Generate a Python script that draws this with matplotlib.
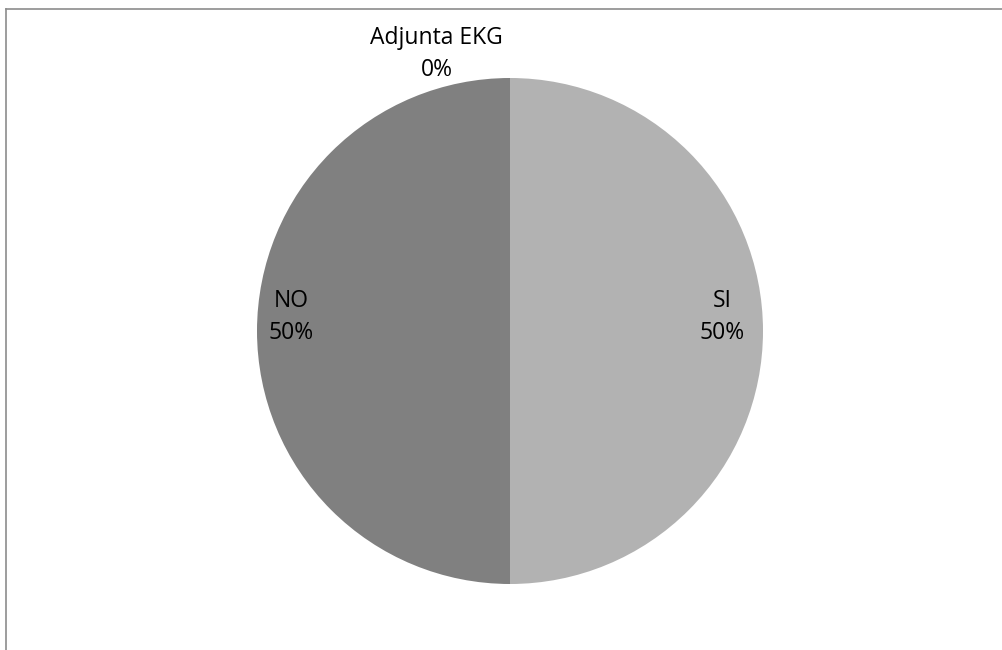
import matplotlib.pyplot as plt
from matplotlib.lines import Line2D

plt.rcParams['font.family'] = ['Open Sans', 'DejaVu Sans']

categories = ["Adjunta EKG", "SI", "NO"]
values = [0, 50, 50]
colors = ["#a0a0a0", "#b2b2b2", "#808080"]
# label centres in radius units, relative to pie centre
label_pos = [(-0.29, 1.095), (0.84, 0.055), (-0.865, 0.055)]

W, H = 1003, 650
fig = plt.figure(figsize=(W / 100, H / 100), dpi=100)

cx, cy, r = 510, 331, 253
ax = fig.add_axes([(cx - r) / W, (H - cy - r) / H, 2 * r / W, 2 * r / H])
ax.pie(values, colors=colors, startangle=90, counterclock=False, radius=1,
       wedgeprops=dict(linewidth=0))
ax.set_xlim(-1, 1)
ax.set_ylim(-1, 1)
ax.set_aspect('equal')
ax.axis('off')

total = sum(values)
for name, v, (x, y) in zip(categories, values, label_pos):
    pct = round(100 * v / total)
    ax.text(x, y, f"{name}\n{pct}%", ha='center', va='center', fontsize=16.5,
            linespacing=1.42, color='black', clip_on=False)

# chart-area border (only top and left visible in the crop)
fig.add_artist(Line2D([6.5 / W, 6.5 / W], [0, 1 - 8.5 / H], color='#8c8c8c', lw=1.2,
                      transform=fig.transFigure))
fig.add_artist(Line2D([6.5 / W, 1], [1 - 8.5 / H, 1 - 8.5 / H], color='#8c8c8c', lw=1.2,
                      transform=fig.transFigure))

fig.savefig("out.png", dpi=100)
